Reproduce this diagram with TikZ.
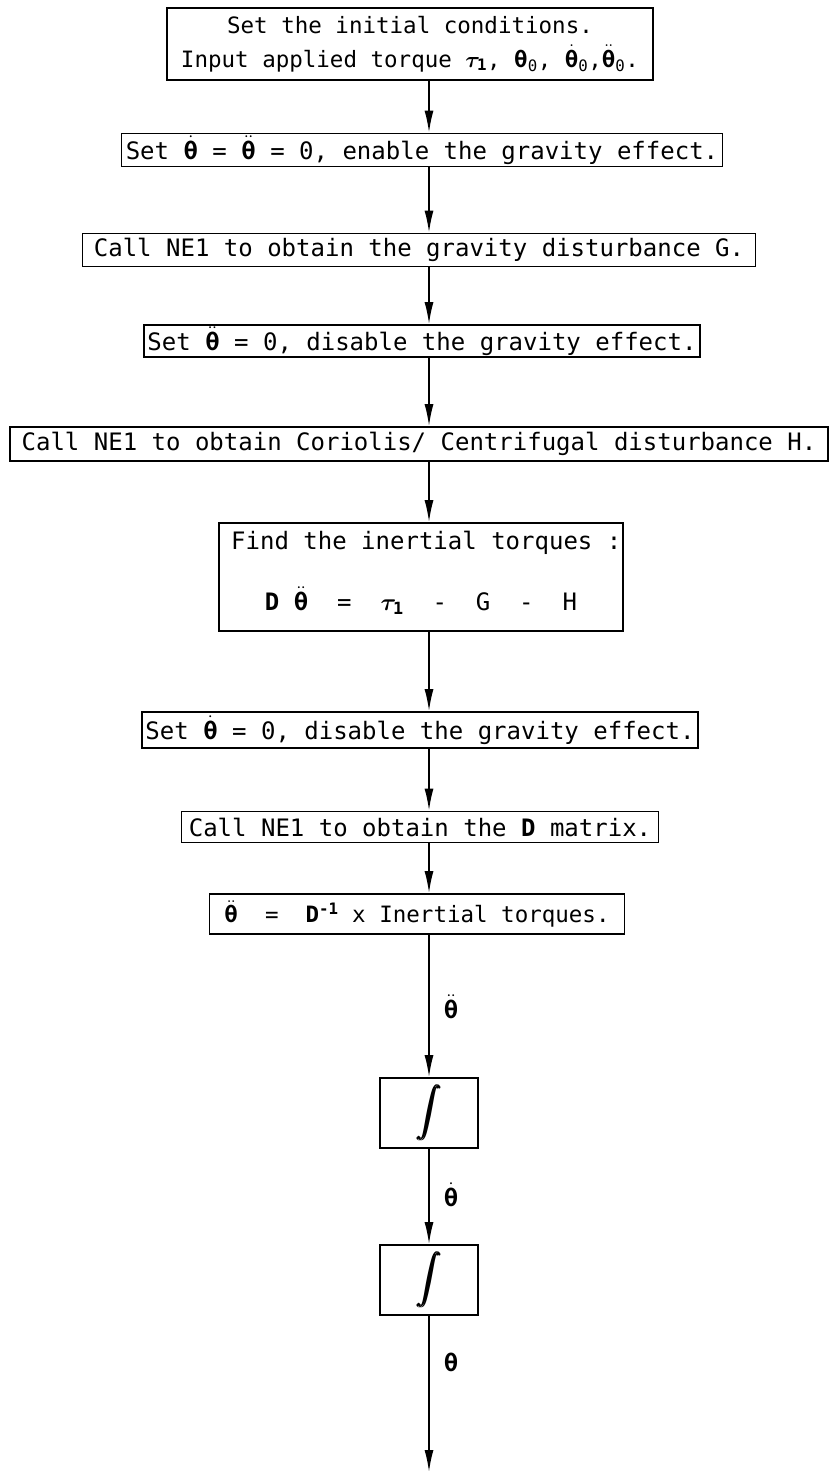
\documentclass[tikz,border=0pt]{standalone}
\usepackage{fix-cm}
\usepackage{amsmath}
\usepackage{bm}
\usepackage{fontspec}
\setmainfont{DejaVu Sans Mono}
\usetikzlibrary{arrows.meta}

% bold upright theta taken from the text font
\newcommand{\thb}{\text{\bfseries θ}}
\newcommand{\tauone}{\bm{\tau}_{\mathbf{1}}}
\newcommand{\integ}{$\displaystyle\bm{\int}$}

\begin{document}
\begin{tikzpicture}[x=1pt,y=-1pt,
  box/.style={draw, line width=1.7pt, inner sep=0pt, align=center,
    font=\fontsize{24}{34}\selectfont},
  txt/.style={inner sep=0pt, font=\fontsize{24}{34}\selectfont},
  flow/.style={line width=1.7pt, -{Latex[length=22pt,width=9pt]}},
  sig/.style={inner sep=0pt, font=\fontsize{24}{24}\selectfont},
  intbox/.style={draw, line width=1.7pt, inner sep=0pt,
    minimum width=98pt, minimum height=70pt,
    font=\fontsize{29}{29}\selectfont}
]
\useasboundingbox (0,0) rectangle (830,1474);
\coordinate (spine) at (429,0);

% process steps
\node[box, minimum width=486pt, minimum height=72pt,
      font=\fontsize{22.5}{34}\selectfont] (b1) at (410,44)
  {Set the initial conditions.\\
   Input applied torque $\tauone$, $\thb_{\text{0}}$, $\dot{\thb}_{\text{0}}$,$\ddot{\thb}_{\text{0}}$.};
\node[box, minimum width=601pt, minimum height=33pt] (b2) at (422,150)
  {Set $\dot{\thb}$ = $\ddot{\thb}$ = 0, enable the gravity effect.};
\node[box, minimum width=673pt, minimum height=33pt] (b3) at (419,250)
  {Call NE1 to obtain the gravity disturbance G.};
\node[box, minimum width=556pt, minimum height=32pt] (b4) at (422,341)
  {Set $\ddot{\thb}$ = 0, disable the gravity effect.};
\node[box, minimum width=818pt, minimum height=34pt] (b5) at (419,444)
  {Call NE1 to obtain Coriolis/ Centrifugal disturbance H.};
\node[box, minimum width=404pt, minimum height=108pt] (b6) at (421,577) {};
\node[txt, anchor=west] (b6a) at (231,543) {Find the inertial torques :};
\node[txt] (b6b) at (421,601)
  {$\mathbf{D}$\ $\ddot{\thb}$\ \ =\ \ $\tauone$\ \ -\ \ G\ \ -\ \ H};
\node[box, minimum width=556pt, minimum height=36pt] (b7) at (420,730)
  {Set $\dot{\thb}$ = 0, disable the gravity effect.};
\node[box, minimum width=477pt, minimum height=31pt] (b8) at (420,827)
  {Call NE1 to obtain the $\mathbf{D}$ matrix.};
\node[box, minimum width=415pt, minimum height=40pt,
      font=\fontsize{22.5}{30}\selectfont] (b9) at (417,914)
  {$\ddot{\thb}$\ \ =\ \ $\mathbf{D}^{\textbf{-1}}$ x Inertial torques.};

% integrators
\node[intbox] (i1) at (429,1113) {\integ};
\node[intbox] (i2) at (429,1280) {\integ};
\coordinate (out) at (429,1472);

% signal labels
\node[sig] (l1) at (451,1007) {$\ddot{\thb}$};
\node[sig] (l2) at (451,1195) {$\dot{\thb}$};
\node[sig] (l3) at (451,1362) {$\thb$};

% connectors
\draw[flow] (b1.south -| spine) -- (b2.north -| spine);
\draw[flow] (b2.south -| spine) -- (b3.north -| spine);
\draw[flow] (b3.south -| spine) -- (b4.north -| spine);
\draw[flow] (b4.south -| spine) -- (b5.north -| spine);
\draw[flow] (b5.south -| spine) -- (b6.north -| spine);
\draw[flow] (b6.south -| spine) -- (b7.north -| spine);
\draw[flow] (b7.south -| spine) -- (b8.north -| spine);
\draw[flow] (b8.south -| spine) -- (b9.north -| spine);
\draw[flow] (b9.south -| spine) -- (i1.north);
\draw[flow] (i1.south) -- (i2.north);
\draw[flow] (i2.south) -- (out);
\end{tikzpicture}
\end{document}
